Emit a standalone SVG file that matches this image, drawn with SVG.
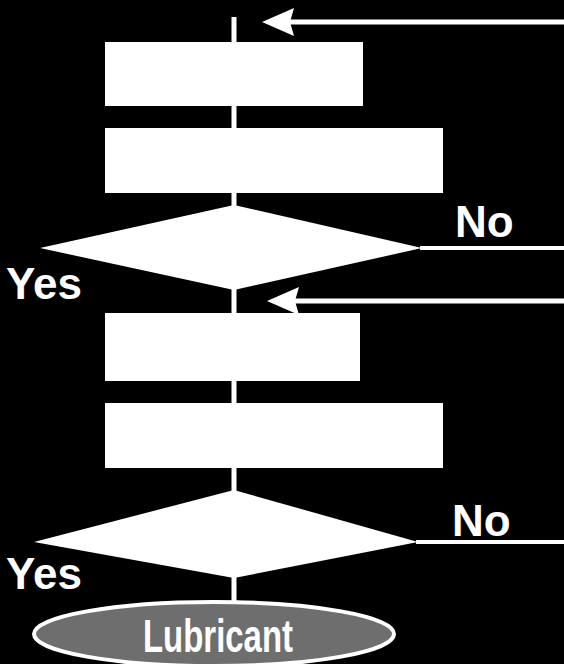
<svg xmlns="http://www.w3.org/2000/svg" width="564" height="664" viewBox="0 0 564 664">
  <defs>
    <style>
      .node { fill: #ffffff; stroke: none; }
      .flow { stroke: #ffffff; stroke-width: 5; fill: none; }
      .branch { stroke: #ffffff; stroke-width: 4; fill: none; }
      .head { fill: #ffffff; stroke: none; }
      .lbl { fill: #ffffff; font-family: "Liberation Sans", Arial, sans-serif; font-weight: bold; font-size: 44px; }
      .term { fill: #6e6e6e; stroke: #ffffff; stroke-width: 4; }
      .termtxt { fill: #ffffff; font-family: "Liberation Sans", Arial, sans-serif; font-weight: bold; font-size: 46px; }
    </style>
  </defs>
  <rect x="0" y="0" width="564" height="664" fill="#000000"/>

  <g id="connectors">
    <line class="flow" x1="234" y1="17" x2="234" y2="604"/>
    <line class="flow" x1="564" y1="22" x2="287" y2="22"/>
    <polygon class="head" points="262,22 294,8 290,22 294,36"/>
    <line class="flow" x1="564" y1="301" x2="292" y2="301"/>
    <polygon class="head" points="267,301 299,287 295,301 299,315"/>
    <line class="branch" x1="420" y1="248" x2="564" y2="248"/>
    <line class="branch" x1="416" y1="542" x2="564" y2="542"/>
  </g>

  <g id="box1"><rect class="node" x="105" y="42" width="258" height="64"/></g>
  <g id="box2"><rect class="node" x="105" y="128" width="338" height="65"/></g>
  <g id="decision1"><polygon class="node" points="234,205 422,248 234,290 40,248"/></g>
  <g id="box3"><rect class="node" x="105" y="313" width="255" height="68"/></g>
  <g id="box4"><rect class="node" x="105" y="403" width="338" height="65"/></g>
  <g id="decision2"><polygon class="node" points="234,490 418,542 234,578 34,542"/></g>
  <g id="terminal">
    <ellipse class="term" cx="214" cy="634" rx="180" ry="32"/>
    <text class="termtxt" x="218" y="652" text-anchor="middle" textLength="150" lengthAdjust="spacingAndGlyphs">Lubricant</text>
  </g>

  <g id="labels">
    <text class="lbl" x="455" y="237">No</text>
    <text class="lbl" x="452" y="536">No</text>
    <text class="lbl" x="6" y="299">Yes</text>
    <text class="lbl" x="6" y="589">Yes</text>
  </g>
</svg>
